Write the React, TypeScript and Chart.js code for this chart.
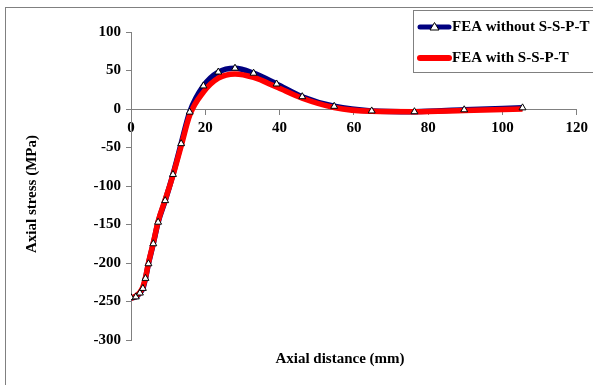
import React, { useEffect, useRef } from "react";
import { Chart, registerables } from "chart.js";

Chart.register(...registerables);

const distances = [0, 1.3, 2.4, 3.2, 3.9, 4.7, 6.0, 7.3, 9.2, 11.3, 13.5, 15.8, 19.5, 23.5, 28, 33, 39.2, 46.1, 54.7, 64.8, 76.3, 89.7, 105.4];
const withoutSSPT = [-245, -244, -239, -233, -220, -201, -175, -147, -119, -85, -45, -4, 30, 48, 53, 46.5, 32.5, 16, 3.5, -2.5, -3.5, -1, 1.5];
const withSSPT = [-246, -243, -238, -231, -219, -200, -174, -146, -118, -86, -48, -8, 22, 40, 45.5, 41, 28.5, 14, 2, -3, -3.5, -2, 0];
const seriesLabels = ["FEA without S-S-P-T", "FEA with S-S-P-T"];
const xTitle = "Axial distance (mm)";
const yTitle = "Axial stress (MPa)";

const FONT = "'Liberation Serif', 'Times New Roman', serif";
const NAVY = "#000080";
const RED = "#ff0000";
const AXIS = "#808080";

const decor = {
  id: "decor",
  beforeDraw(chart: any) {
    const ctx = chart.ctx;
    ctx.save();
    ctx.fillStyle = "#fff";
    ctx.fillRect(0, 0, chart.width, chart.height);
    ctx.strokeStyle = AXIS;
    ctx.lineWidth = 1;
    ctx.strokeRect(5.5, 7.5, 700, 500);
    ctx.restore();
  },
  afterDraw(chart: any) {
    const ctx = chart.ctx;
    const ca = chart.chartArea;
    ctx.save();
    ctx.fillStyle = "#000";
    ctx.font = `bold 15px ${FONT}`;
    ctx.textAlign = "center";
    ctx.textBaseline = "middle";
    ctx.fillText(xTitle, 340, 359);
    ctx.translate(32, (ca.top + ca.bottom) / 2 + 8);
    ctx.rotate(-Math.PI / 2);
    ctx.fillText(yTitle, 0, 0);
    ctx.restore();

    // legend
    ctx.save();
    ctx.fillStyle = "#fff";
    ctx.fillRect(413.5, 10.5, 200, 62);
    ctx.strokeStyle = AXIS;
    ctx.lineWidth = 1;
    ctx.strokeRect(413.5, 10.5, 200, 62);
    const rows = [
      { y: 27, color: NAVY, w: 5, marker: true, label: seriesLabels[0] },
      { y: 58, color: RED, w: 6, marker: false, label: seriesLabels[1] },
    ];
    for (const r of rows) {
      ctx.strokeStyle = r.color;
      ctx.lineWidth = r.w;
      ctx.lineCap = "round";
      ctx.beginPath();
      ctx.moveTo(420, r.y);
      ctx.lineTo(449, r.y);
      ctx.stroke();
      if (r.marker) {
        ctx.lineWidth = 1;
        ctx.lineCap = "butt";
        ctx.fillStyle = "#fff";
        ctx.strokeStyle = "#000";
        ctx.beginPath();
        ctx.moveTo(434.5, r.y - 4.5);
        ctx.lineTo(439, r.y + 3);
        ctx.lineTo(430, r.y + 3);
        ctx.closePath();
        ctx.fill();
        ctx.stroke();
      }
      ctx.fillStyle = "#000";
      ctx.font = `bold 15px ${FONT}`;
      ctx.textAlign = "left";
      ctx.textBaseline = "middle";
      ctx.fillText(r.label, 452, r.y);
    }
    ctx.restore();
  },
};

export default function App() {
  const ref = useRef<HTMLCanvasElement | null>(null);
  useEffect(() => {
    if (!ref.current) return;
    const blue = distances.map((x, i) => ({ x, y: withoutSSPT[i] }));
    const red = distances.map((x, i) => ({ x, y: withSSPT[i] }));
    const chart = new Chart(ref.current, {
      type: "line",
      data: {
        datasets: [
          {
            label: seriesLabels[0] + " markers",
            data: blue,
            showLine: false,
            pointStyle: "triangle",
            pointRadius: 4,
            pointBackgroundColor: "#fff",
            pointBorderColor: "#000",
            pointBorderWidth: 1,
            borderColor: NAVY,
          },
          {
            label: seriesLabels[1],
            data: red,
            borderColor: RED,
            borderWidth: 5.5,
            pointRadius: 0,
            cubicInterpolationMode: "monotone",
            fill: false,
          },
          {
            label: seriesLabels[0],
            data: blue,
            borderColor: NAVY,
            borderWidth: 5.5,
            pointRadius: 0,
            cubicInterpolationMode: "monotone",
            fill: false,
          },
        ],
      },
      options: {
        animation: false,
        responsive: false,
        devicePixelRatio: 1,
        layout: { padding: { left: 0, right: 15, top: 32, bottom: 45 } },
        plugins: { legend: { display: false }, tooltip: { enabled: false } },
        scales: {
          x: {
            type: "linear",
            position: { y: 0 },
            min: 0,
            max: 120,
            ticks: {
              stepSize: 20,
              color: "#000",
              font: { family: FONT, size: 15, weight: "bold" },
              padding: 5,
              maxRotation: 0,
            },
            grid: { drawOnChartArea: false, tickLength: 5, color: AXIS },
            border: { color: AXIS, width: 1 },
          },
          y: {
            type: "linear",
            position: "left",
            min: -300,
            max: 100,
            ticks: {
              stepSize: 50,
              color: "#000",
              font: { family: FONT, size: 15, weight: "bold" },
              padding: 5,
            },
            grid: { drawOnChartArea: false, tickLength: 5, color: AXIS },
            border: { color: AXIS, width: 1 },
            afterFit: (s: any) => {
              s.width = 131;
            },
          },
        },
      },
      plugins: [decor],
    } as any);
    return () => chart.destroy();
  }, []);
  return (
    <div style={{ position: "fixed", left: 0, top: 0, width: 593, height: 385, background: "#fff" }}>
      <canvas ref={ref} width={593} height={385} />
    </div>
  );
}
